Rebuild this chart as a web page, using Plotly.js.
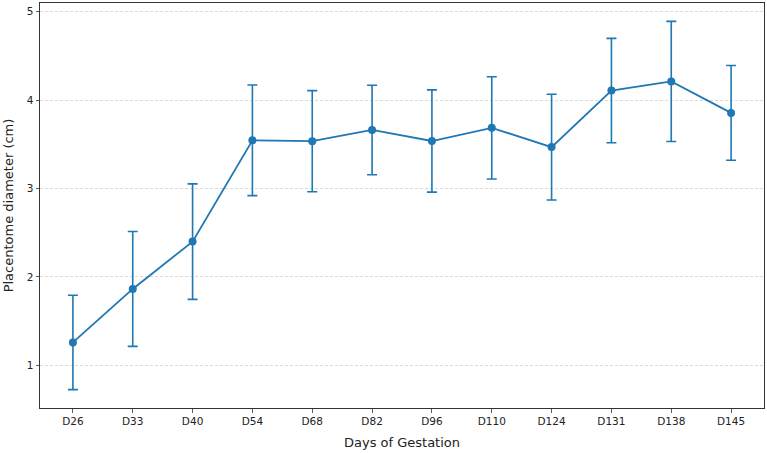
<!DOCTYPE html>
<html>
<head>
<meta charset="utf-8">
<script src="https://cdn.plot.ly/plotly-3.0.1.min.js"></script>
<style>
  html, body { margin: 0; padding: 0; background: #fff; }
  #chart { width: 767px; height: 453px; }
</style>
</head>
<body>
<div id="chart"></div>
<script>
// Gestation day labels
const days = ["D26", "D33", "D40", "D54", "D68", "D82", "D96", "D110", "D124", "D131", "D138", "D145"];
// Mean placentome diameter (cm)
const meanDiameter = [1.26, 1.865, 2.40, 3.545, 3.535, 3.662, 3.537, 3.686, 3.468, 4.107, 4.21, 3.855];
// Standard deviation (cm)
const sdDiameter = [0.533, 0.649, 0.653, 0.625, 0.572, 0.506, 0.578, 0.578, 0.597, 0.59, 0.679, 0.535];
const yTicks = [1, 2, 3, 4, 5];

const blue = "#1f77b4";
const idx = days.map((_, i) => i);

const lo = Math.min(...meanDiameter.map((m, i) => m - sdDiameter[i]));
const hi = Math.max(...meanDiameter.map((m, i) => m + sdDiameter[i]));
const pad = 0.05 * (hi - lo);

const trace = {
  x: idx,
  y: meanDiameter,
  type: "scatter",
  mode: "lines+markers",
  line: { color: blue, width: 1.8 },
  marker: { color: blue, size: 8 },
  error_y: {
    type: "data",
    array: sdDiameter,
    visible: true,
    color: blue,
    thickness: 1.6,
    width: 5
  },
  hoverinfo: "skip"
};

const font = "DejaVu Sans, sans-serif";

const layout = {
  width: 767,
  height: 453,
  margin: { l: 40, r: 3, t: 3, b: 45 },
  paper_bgcolor: "#fff",
  plot_bgcolor: "#fff",
  showlegend: false,
  font: { family: font, color: "#222", size: 10.5 },
  xaxis: {
    range: [-0.55, days.length - 1 + 0.55],
    tickmode: "array",
    tickvals: idx,
    ticktext: days,
    ticks: "outside",
    ticklen: 3.5,
    tickwidth: 0.8,
    tickcolor: "#333",
    showgrid: false,
    zeroline: false,
    showline: true,
    mirror: true,
    linecolor: "#333",
    linewidth: 1,
    tickfont: { family: font, size: 10.5, color: "#222" },
    title: { text: "Days of Gestation", font: { family: font, size: 13, color: "#222" }, standoff: 11 }
  },
  yaxis: {
    range: [lo - pad, hi + pad],
    tickmode: "array",
    tickvals: yTicks,
    ticktext: yTicks.map(String),
    ticks: "outside",
    ticklen: 3.5,
    tickwidth: 0.8,
    tickcolor: "#333",
    showgrid: true,
    gridcolor: "#d0d0d0",
    gridwidth: 0.8,
    griddash: "3px,2px",
    zeroline: false,
    showline: true,
    mirror: true,
    linecolor: "#333",
    linewidth: 1,
    tickfont: { family: font, size: 10.5, color: "#222" },
    title: { text: "Placentome diameter (cm)", font: { family: font, size: 13, color: "#222" }, standoff: 10 }
  }
};

Plotly.newPlot("chart", [trace], layout, { displayModeBar: false, staticPlot: true });
</script>
</body>
</html>
